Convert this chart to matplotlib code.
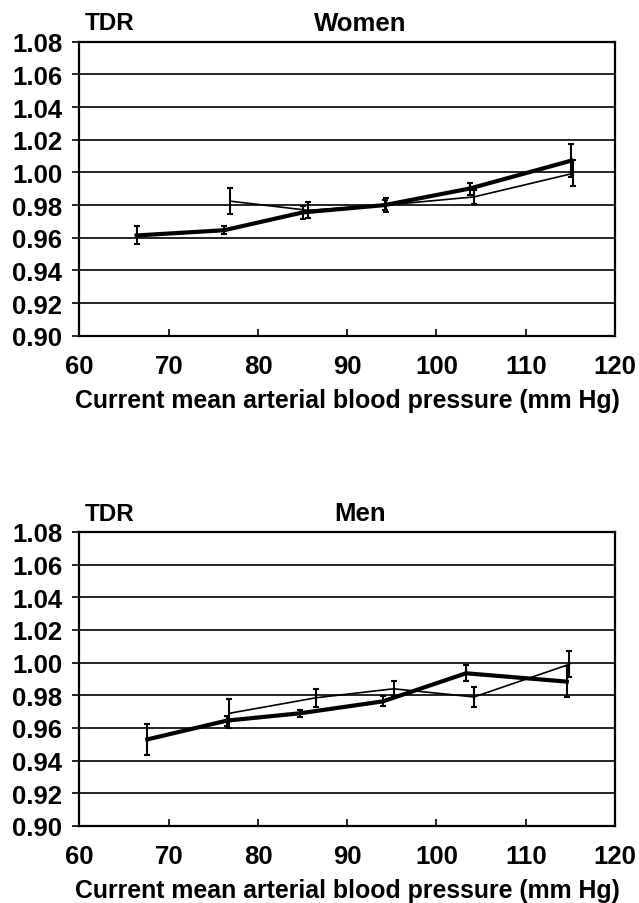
import matplotlib
matplotlib.use("Agg")
import matplotlib.pyplot as plt

plt.rcParams['font.family'] = ['Liberation Sans', 'DejaVu Sans']
plt.rcParams['font.weight'] = 'bold'

# Women: thick series
w_thick_x = [66.4, 76.2, 85.0, 94.2, 103.7, 115.1]
w_thick_y = [0.9614, 0.9646, 0.9755, 0.9800, 0.9901, 1.0072]
w_thick_err = [0.0055, 0.0025, 0.0040, 0.0030, 0.0037, 0.0100]
# Women: thin series
w_thin_x = [76.9, 85.6, 94.3, 104.2, 115.3]
w_thin_y = [0.9824, 0.9768, 0.9800, 0.9850, 0.9994]
w_thin_err = [0.0080, 0.0050, 0.0045, 0.0045, 0.0080]

# Men: thick series
m_thick_x = [67.6, 76.5, 84.7, 94.0, 103.3, 114.6]
m_thick_y = [0.9530, 0.9645, 0.9690, 0.9763, 0.9935, 0.9884]
m_thick_err = [0.0095, 0.0030, 0.0020, 0.0030, 0.0050, 0.0095]
# Men: thin series
m_thin_x = [76.8, 86.5, 95.2, 104.2, 114.9]
m_thin_y = [0.9690, 0.9785, 0.9840, 0.9790, 0.9990]
m_thin_err = [0.0090, 0.0055, 0.0045, 0.0060, 0.0080]

y_ticks = [0.90, 0.92, 0.94, 0.96, 0.98, 1.00, 1.02, 1.04, 1.06, 1.08]
x_ticks = [60, 70, 80, 90, 100, 110, 120]
x_label = 'Current mean arterial blood pressure (mm Hg)'

fig = plt.figure(figsize=(6.39, 9.04), dpi=100)
ax1 = fig.add_axes([0.1244, 0.6275, 0.838, 0.3252])
ax2 = fig.add_axes([0.1244, 0.0852, 0.838, 0.3252])


def draw(ax, title, tx, ty, te, nx, ny, ne):
    ax.set_xlim(60, 120)
    ax.set_ylim(0.90, 1.08)
    for yv in y_ticks[1:-1]:
        ax.axhline(yv, color='black', lw=1.2, zorder=1)
    ax.errorbar(nx, ny, yerr=ne, color='black', lw=1.2, elinewidth=1.5,
                capsize=2.5, capthick=1.5, zorder=3)
    ax.errorbar(tx, ty, yerr=te, color='black', lw=3.0, elinewidth=1.5,
                capsize=2.5, capthick=1.5, zorder=4)
    for s in ax.spines.values():
        s.set_linewidth(1.6)
    ax.set_yticks(y_ticks)
    ax.set_yticklabels(['%.2f' % v for v in y_ticks])
    ax.set_xticks(x_ticks)
    ax.tick_params(axis='y', direction='out', length=5, width=1.2,
                   pad=7.5, labelsize=18.5)
    ax.tick_params(axis='x', direction='in', length=5, width=1.2,
                   pad=13, labelsize=18.5)
    ax.set_xlabel(x_label, fontsize=17.9, fontweight='bold', labelpad=7)
    ax.text(0.01, 1.064, 'TDR', transform=ax.transAxes, fontsize=17.5,
            va='center', ha='left')
    ax.text(0.524, 1.064, title, transform=ax.transAxes, fontsize=18.5,
            va='center', ha='center')


draw(ax1, 'Women', w_thick_x, w_thick_y, w_thick_err,
     w_thin_x, w_thin_y, w_thin_err)
draw(ax2, 'Men', m_thick_x, m_thick_y, m_thick_err,
     m_thin_x, m_thin_y, m_thin_err)

fig.savefig('out.png', dpi=100)
